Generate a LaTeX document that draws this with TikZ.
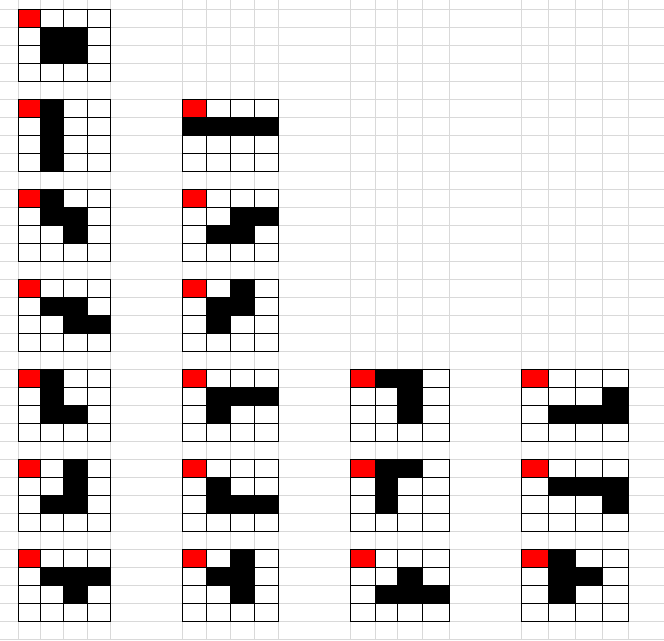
\documentclass[tikz,border=0pt]{standalone}
\definecolor{bgline}{RGB}{217,217,217}
\definecolor{startred}{RGB}{255,0,0}
\newcommand\tetgrid[7]{%
  \begin{scope}[shift={(0,#6)}]
    \fill[white] (#1,0) rectangle (#5,72);
    \fill[startred] (#1,0) rectangle (#2,18);
    \foreach \r/\c in {#7}{%
      \pgfmathsetmacro\xl{{#1,#2,#3,#4,#5}[\c]}%
      \pgfmathsetmacro\xr{{#1,#2,#3,#4,#5}[\c+1]}%
      \fill[black] (\xl,18*\r) rectangle (\xr,18*\r+18);
    }
    \draw[cellline] (#1,0) rectangle (#5,72);
    \foreach \x in {#2,#3,#4} \draw[cellline] (\x,0) -- (\x,72);
    \foreach \y in {18,36,54} \draw[cellline] (#1,\y) -- (#5,\y);
  \end{scope}}
\begin{document}
\begin{tikzpicture}[x=1pt,y=-1pt,
  bggrid/.style={draw=bgline,line width=0.9pt},
  cellline/.style={draw=black,line width=1.2pt,line cap=rect}]
\useasboundingbox (0,0) rectangle (664,640);
\fill[white] (0,0) rectangle (664,640);
\foreach \k in {0,...,35} \draw[bggrid] (0,9.3+18*\k) -- (664,9.3+18*\k);
\foreach \x in {18.3,40.7,63.3,87.3,110.3,182.3,206.5,230.5,254.7,278.3,350.5,375.7,397.5,422.7,449.5,521.5,548.3,575.3,602.3,628.5}
  \draw[bggrid] (\x,0) -- (\x,640);
% row 0
\tetgrid{18.3}{40.7}{63.3}{87.3}{110.3}{9.3}{1/1,1/2,2/1,2/2}
% row 1
\tetgrid{18.3}{40.7}{63.3}{87.3}{110.3}{99.3}{0/1,1/1,2/1,3/1}
\tetgrid{182.3}{206.5}{230.5}{254.7}{278.3}{99.3}{1/0,1/1,1/2,1/3}
% row 2
\tetgrid{18.3}{40.7}{63.3}{87.3}{110.3}{189.3}{0/1,1/1,1/2,2/2}
\tetgrid{182.3}{206.5}{230.5}{254.7}{278.3}{189.3}{1/2,1/3,2/1,2/2}
% row 3
\tetgrid{18.3}{40.7}{63.3}{87.3}{110.3}{279.3}{1/1,1/2,2/2,2/3}
\tetgrid{182.3}{206.5}{230.5}{254.7}{278.3}{279.3}{0/2,1/1,1/2,2/1}
% row 4
\tetgrid{18.3}{40.7}{63.3}{87.3}{110.3}{369.3}{0/1,1/1,2/1,2/2}
\tetgrid{182.3}{206.5}{230.5}{254.7}{278.3}{369.3}{1/1,1/2,1/3,2/1}
\tetgrid{350.5}{375.7}{397.5}{422.7}{449.5}{369.3}{0/1,0/2,1/2,2/2}
\tetgrid{521.5}{548.3}{575.3}{602.3}{628.5}{369.3}{1/3,2/1,2/2,2/3}
% row 5
\tetgrid{18.3}{40.7}{63.3}{87.3}{110.3}{459.3}{0/2,1/2,2/1,2/2}
\tetgrid{182.3}{206.5}{230.5}{254.7}{278.3}{459.3}{1/1,2/1,2/2,2/3}
\tetgrid{350.5}{375.7}{397.5}{422.7}{449.5}{459.3}{0/1,0/2,1/1,2/1}
\tetgrid{521.5}{548.3}{575.3}{602.3}{628.5}{459.3}{1/1,1/2,1/3,2/3}
% row 6
\tetgrid{18.3}{40.7}{63.3}{87.3}{110.3}{549.3}{1/1,1/2,1/3,2/2}
\tetgrid{182.3}{206.5}{230.5}{254.7}{278.3}{549.3}{0/2,1/1,1/2,2/2}
\tetgrid{350.5}{375.7}{397.5}{422.7}{449.5}{549.3}{1/2,2/1,2/2,2/3}
\tetgrid{521.5}{548.3}{575.3}{602.3}{628.5}{549.3}{0/1,1/1,1/2,2/1}
\end{tikzpicture}
\end{document}
